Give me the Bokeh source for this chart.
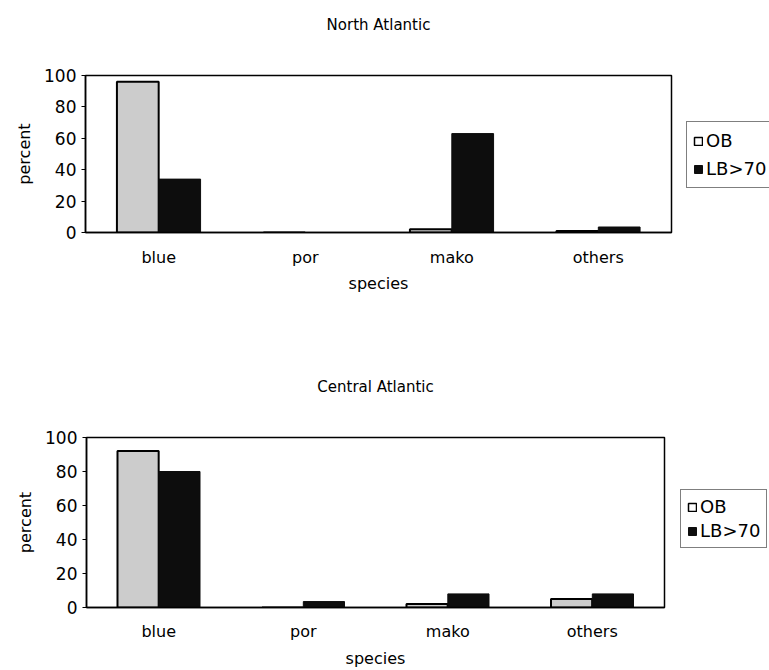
from bokeh.plotting import figure
from bokeh.models import (ColumnDataSource, FactorRange, Legend, LegendItem, Range1d,
                          FixedTicker, Title)
from bokeh.transform import dodge
from bokeh.layouts import column, row
from bokeh.embed import file_html
from bokeh.resources import INLINE

species = ["blue", "por", "mako", "others"]
north_ob = [96, 0, 2, 1]
north_lb = [34, 0, 63, 3.5]
central_ob = [92, 0, 2, 5]
central_lb = [80, 3.5, 8, 8]
yticks = [0, 20, 40, 60, 80, 100]
series = ["OB", "LB>70"]

FONT = "DejaVu Sans"
OB_FILL = "#cccccc"
LB_FILL = "#0d0d0d"


def make(title, ob, lb, width, height, bl, bt, bb, spacer, s1, s2):
    src = ColumnDataSource(dict(sp=species, ob=ob, lb=lb))
    p = figure(x_range=FactorRange(*species), y_range=Range1d(0, 100),
               width=width, height=height, output_backend="svg",
               toolbar_location=None,
               min_border_left=bl, min_border_right=2,
               min_border_top=bt, min_border_bottom=bb)
    p.vbar(x=dodge("sp", -0.143, range=p.x_range), top="ob", width=0.285,
           source=src, fill_color=OB_FILL, line_color="black", line_width=2)
    p.vbar(x=dodge("sp", 0.143, range=p.x_range), top="lb", width=0.285,
           source=src, fill_color=LB_FILL, line_color=LB_FILL, line_width=1)

    # spacer between frame and title, then the title itself
    p.add_layout(Title(text=" ", text_font_size="1px", standoff=spacer), "above")
    p.add_layout(Title(text=title, align="center", text_font=FONT,
                       text_font_size="15px", text_font_style="normal",
                       text_color="black", standoff=10), "above")

    p.xgrid.visible = False
    p.ygrid.visible = False
    p.outline_line_color = "black"
    p.outline_line_width = 1.5
    p.outline_line_alpha = 1

    p.yaxis.ticker = FixedTicker(ticks=yticks)
    p.yaxis.minor_tick_line_color = None
    p.yaxis.major_tick_out = 4
    p.yaxis.major_tick_in = 0
    p.yaxis.major_label_text_font = FONT
    p.yaxis.major_label_text_font_size = "17px"
    p.yaxis.major_label_text_color = "black"
    p.yaxis.major_label_standoff = 5
    p.yaxis.axis_label = "percent"
    p.yaxis.axis_label_text_font = FONT
    p.yaxis.axis_label_text_font_size = "16px"
    p.yaxis.axis_label_text_font_style = "normal"
    p.yaxis.axis_label_text_color = "black"
    p.yaxis.axis_label_standoff = 7
    p.yaxis.axis_line_color = "black"
    p.yaxis.axis_line_width = 1.5

    p.xaxis.major_tick_line_color = None
    p.xaxis.major_tick_out = 0
    p.xaxis.major_tick_in = 0
    p.xaxis.minor_tick_line_color = None
    p.xaxis.major_label_text_font = FONT
    p.xaxis.major_label_text_font_size = "16px"
    p.xaxis.major_label_text_color = "black"
    p.xaxis.major_label_standoff = s1
    p.xaxis.axis_label = "species"
    p.xaxis.axis_label_text_font = FONT
    p.xaxis.axis_label_text_font_size = "16px"
    p.xaxis.axis_label_text_font_style = "normal"
    p.xaxis.axis_label_text_color = "black"
    p.xaxis.axis_label_standoff = s2
    p.xaxis.axis_line_color = "black"
    p.xaxis.axis_line_width = 1.5
    p.background_fill_color = "white"
    p.border_fill_color = "white"
    return p, src


def make_legend(src, width, height, loc, label_h):
    q = figure(x_range=FactorRange(*species), y_range=Range1d(0, 100),
               width=width, height=height, output_backend="svg",
               toolbar_location=None, min_border=0)
    q.axis.visible = False
    q.grid.visible = False
    q.outline_line_color = None
    q.background_fill_color = "white"
    q.border_fill_color = "white"
    r1 = q.vbar(x="sp", top="ob", width=0.3, source=src, fill_color="white",
                line_color="black", line_width=1.5, visible=False)
    r2 = q.vbar(x="sp", top="lb", width=0.3, source=src, fill_color=LB_FILL,
                line_color=LB_FILL, visible=False)
    legend = Legend(items=[LegendItem(label=series[0], renderers=[r1]),
                           LegendItem(label=series[1], renderers=[r2])],
                    location=loc)
    legend.label_text_font = FONT
    legend.label_text_font_size = "18px"
    legend.label_text_color = "black"
    legend.border_line_color = "black"
    legend.border_line_width = 1
    legend.background_fill_color = "white"
    legend.background_fill_alpha = 1
    legend.inactive_fill_alpha = 0
    legend.padding = 6
    legend.spacing = 3
    legend.margin = 0
    legend.glyph_width = 10
    legend.glyph_height = 10
    legend.label_standoff = 3
    legend.label_height = label_h
    q.add_layout(legend, "center")
    return q


H1 = 302
H2 = 368
p1, src1 = make("North Atlantic", north_ob, north_lb, 673, H1, 85, 75, 70, 34, 15, 4)
l1 = make_legend(src1, 96, H1, (13, 44), 25)
p2, src2 = make("Central Atlantic", central_ob, central_lb, 666, H2, 86, 135, 63, 34, 14, 5)
l2 = make_legend(src2, 103, H2, (14, 59), 21)

layout = column(row(p1, l1, spacing=0), row(p2, l2, spacing=0), spacing=0)
open("out.html", "w").write(file_html(layout, INLINE))
